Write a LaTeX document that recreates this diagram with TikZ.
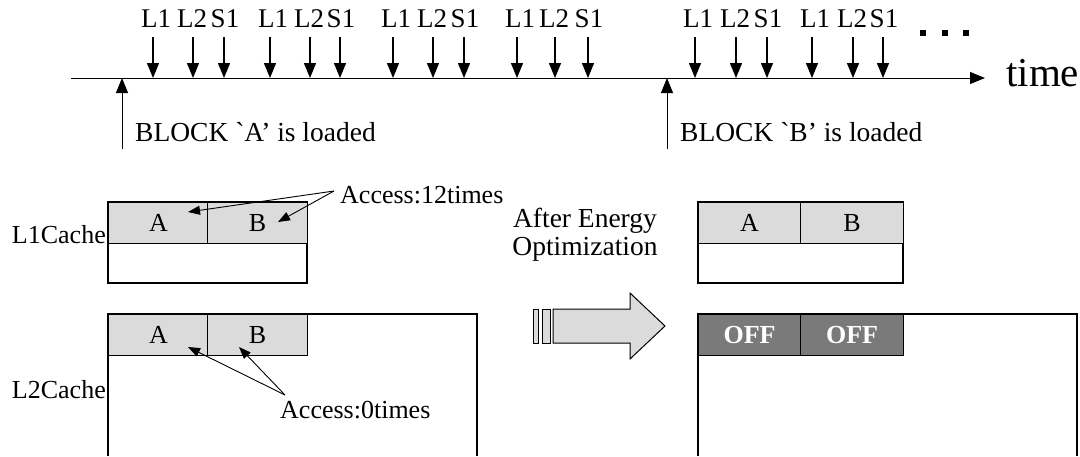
\documentclass[tikz,border=0pt]{standalone}
\usepackage{fontspec}
\setmainfont{Liberation Serif}
\newfontfamily\rawserif{Liberation Serif}[Ligatures=TeXOff]
\usetikzlibrary{arrows.meta}
\definecolor{cellgray}{gray}{0.86}
\definecolor{offgray}{gray}{0.48}
\newcommand{\backtick}{{\rawserif\symbol{96}}}
\begin{document}
\begin{tikzpicture}[x=1pt,y=-1pt,
  txt/.style={inner sep=0pt,font=\fontsize{26}{28}\selectfont},
  bigtxt/.style={inner sep=0pt,font=\fontsize{27.5}{28}\selectfont},
  evtarrow/.style={line width=1.4pt,-{Triangle[length=15pt,width=12pt]}},
  callout/.style={line width=0.9pt,-{Triangle[length=12pt,width=9pt]}},
  frame/.style={line width=1.2pt},
  cell/.style={draw,line width=1.2pt,fill=cellgray,minimum width=100pt,minimum height=41pt,inner sep=0pt,font=\fontsize{26}{28}\selectfont},
  offcell/.style={cell,fill=offgray,text=white,font=\fontsize{26}{28}\selectfont\bfseries},
  dot/.style={fill=black,minimum size=5.5pt,inner sep=0pt},
  shaft/.style={draw,line width=1pt,fill=cellgray}]
\useasboundingbox (0,0) rectangle (1080,456);

% time axis
\coordinate (t0) at (71,78);
\coordinate (t1) at (985,78);
\draw[line width=1pt,-{Triangle[length=15pt,width=12pt]}] (t0) -- (t1);
\node[inner sep=0pt,anchor=base west,font=\fontsize{41}{43}\selectfont] (time) at (1006,86) {time};

% memory accesses along the axis (label offset keeps the words apart)
\foreach \x/\l/\dx [count=\i] in {153/L1/3,193/L2/-1,224/S1/1,270/L1/3,310/L2/-1,340/S1/1,393/L1/3,433/L2/-1,464/S1/1,517/L1/3,555/L2/-1,588/S1/1,695/L1/3,736/L2/-1,767/S1/1,812/L1/3,853/L2/-1,883/S1/1}{
  \node[inner sep=0pt,font=\fontsize{27}{28}\selectfont,anchor=base] (acc\i) at (\x+\dx,27) {\l};
  \coordinate (top\i) at (\x,37);
  \coordinate (hit\i) at (\x,78);
  \draw[evtarrow] (top\i) -- (hit\i);
}
\foreach \x [count=\i] in {923,945,966}{
  \node[dot] (d\i) at (\x,33) {};
}

% block load events
\coordinate (ldA) at (122,149);
\coordinate (tA) at (122,78);
\draw[line width=1pt,-{Triangle[length=15pt,width=12pt]}] (ldA) -- (tA);
\node[bigtxt,anchor=base west] (blkA) at (135,141) {BLOCK \backtick A’ is loaded};
\coordinate (ldB) at (667,149);
\coordinate (tB) at (667,78);
\draw[line width=1pt,-{Triangle[length=15pt,width=12pt]}] (ldB) -- (tB);
\node[bigtxt,anchor=base west] (blkB) at (680,141) {BLOCK \backtick B’ is loaded};

% L1 cache, before
\draw[frame] (108,202) rectangle (307,283);
\node[cell,anchor=north west] (l1a) at (108,202) {A};
\node[cell,anchor=north west] (l1b) at (207,202) {B};
\node[txt,anchor=base east] (l1lab) at (106,243) {L1Cache};

% L2 cache, before
\draw[frame] (108,456) -- (108,314) -- (477,314) -- (477,456);
\node[cell,anchor=north west] (l2a) at (108,314) {A};
\node[cell,anchor=north west] (l2b) at (207,314) {B};
\node[txt,anchor=base east] (l2lab) at (106,398) {L2Cache};

% access counts
\node[txt,anchor=base west] (acc12) at (340,203) {Access:12times};
\coordinate (c12) at (334,191);
\coordinate (c12a) at (188,212);
\coordinate (c12b) at (278,222);
\draw[callout] (c12) -- (c12a);
\draw[callout] (c12) -- (c12b);
\node[txt,anchor=base west] (acc0) at (280,418) {Access:0times};
\coordinate (c0) at (285,395);
\coordinate (c0a) at (188,347);
\coordinate (c0b) at (239,347);
\draw[callout] (c0) -- (c0a);
\draw[callout] (c0) -- (c0b);

% transition arrow
\node[bigtxt,align=center,anchor=base] (opt) at (585,255) {After Energy\\[0pt]Optimization};
\draw[shaft] (533,309) rectangle (538,343);
\draw[shaft] (542,309) rectangle (550,343);
\draw[shaft] (553,309) -- (630,309) -- (630,293) -- (665,326) -- (630,359) -- (630,343) -- (553,343) -- cycle;

% L1 cache, after
\draw[frame] (698,202) rectangle (903,283);
\node[cell,anchor=north west,minimum width=102pt] (r1a) at (698,202) {A};
\node[cell,anchor=north west,minimum width=103pt] (r1b) at (800,202) {B};

% L2 cache, after
\draw[frame] (698,456) -- (698,314) -- (1077,314) -- (1077,456);
\node[offcell,anchor=north west,minimum width=102pt] (r2a) at (698,314) {OFF};
\node[offcell,anchor=north west,minimum width=103pt] (r2b) at (800,314) {OFF};
\end{tikzpicture}
\end{document}
